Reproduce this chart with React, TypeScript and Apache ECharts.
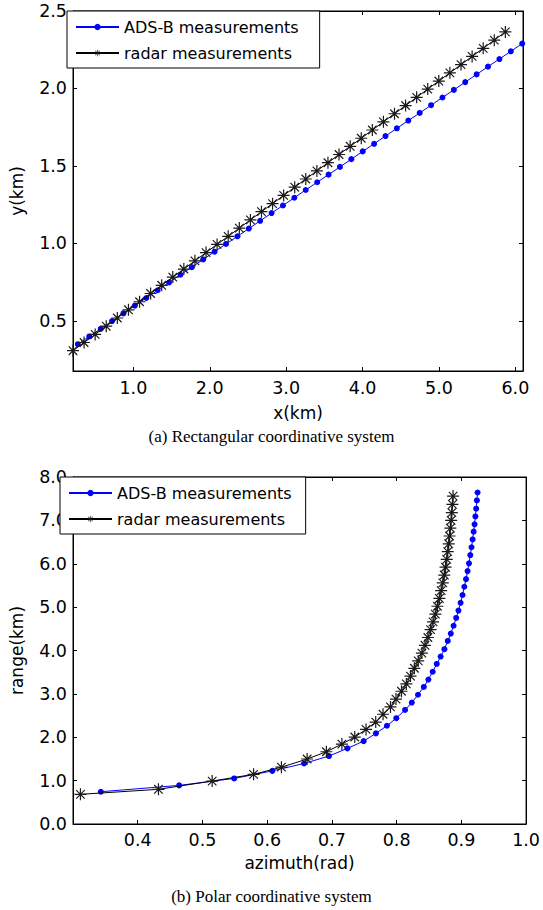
import React, { useEffect, useRef } from "react";
import * as echarts from "echarts";

// ---------- (a) Rectangular coordinates ----------
const adsbX = [0.274, 0.423, 0.572, 0.721, 0.870, 1.020, 1.169, 1.318, 1.467, 1.616, 1.765, 1.914, 2.063, 2.213, 2.362, 2.511, 2.660, 2.809, 2.958, 3.107, 3.256, 3.406, 3.555, 3.704, 3.853, 4.002, 4.151, 4.300, 4.449, 4.599, 4.748, 4.897, 5.046, 5.195, 5.344, 5.493, 5.642, 5.792, 5.941, 6.090];
const adsbY = [0.350, 0.400, 0.449, 0.499, 0.549, 0.599, 0.648, 0.698, 0.748, 0.798, 0.847, 0.897, 0.947, 0.997, 1.046, 1.096, 1.146, 1.196, 1.245, 1.295, 1.345, 1.395, 1.444, 1.494, 1.544, 1.594, 1.643, 1.693, 1.743, 1.793, 1.842, 1.892, 1.942, 1.991, 2.041, 2.091, 2.141, 2.190, 2.240, 2.290];
const radarX = [0.210, 0.355, 0.500, 0.645, 0.790, 0.936, 1.081, 1.226, 1.371, 1.516, 1.661, 1.806, 1.951, 2.096, 2.241, 2.387, 2.532, 2.677, 2.822, 2.967, 3.112, 3.257, 3.402, 3.547, 3.692, 3.838, 3.983, 4.128, 4.273, 4.418, 4.563, 4.708, 4.853, 4.998, 5.143, 5.289, 5.434, 5.579, 5.724, 5.869];
const radarY = [0.308, 0.361, 0.413, 0.466, 0.519, 0.572, 0.624, 0.677, 0.730, 0.783, 0.835, 0.888, 0.941, 0.994, 1.046, 1.099, 1.152, 1.205, 1.257, 1.310, 1.363, 1.416, 1.468, 1.521, 1.574, 1.627, 1.679, 1.732, 1.785, 1.837, 1.890, 1.943, 1.996, 2.048, 2.101, 2.154, 2.207, 2.259, 2.312, 2.365];
const xTicksA = [1, 2, 3, 4, 5, 6];
const yTicksA = [0.5, 1.0, 1.5, 2.0, 2.5];

// ---------- (b) Polar coordinates ----------
const adsbAz = [0.343, 0.464, 0.549, 0.608, 0.657, 0.6955, 0.724, 0.749, 0.768, 0.785, 0.7995, 0.813, 0.8235, 0.833, 0.842, 0.849, 0.8557, 0.862, 0.868, 0.8738, 0.879, 0.8837, 0.888, 0.892, 0.8955, 0.8988, 0.9018, 0.9046, 0.9072, 0.9096, 0.9118, 0.9138, 0.9157, 0.9174, 0.919, 0.9204, 0.9217, 0.9229, 0.924, 0.925];
const adsbRange = [0.744, 0.890, 1.050, 1.225, 1.395, 1.567, 1.744, 1.910, 2.090, 2.265, 2.440, 2.630, 2.800, 2.980, 3.160, 3.330, 3.510, 3.690, 3.860, 4.030, 4.220, 4.390, 4.570, 4.750, 4.920, 5.100, 5.280, 5.470, 5.645, 5.830, 6.010, 6.200, 6.380, 6.560, 6.740, 6.910, 7.090, 7.270, 7.460, 7.643];
const radarAz = [0.3115, 0.432, 0.515, 0.579, 0.622, 0.6617, 0.6915, 0.7154, 0.7353, 0.7527, 0.7677, 0.779, 0.7905, 0.799, 0.8075, 0.815, 0.8214, 0.8274, 0.8333, 0.839, 0.8438, 0.8483, 0.8525, 0.8563, 0.8598, 0.863, 0.866, 0.8688, 0.8713, 0.8736, 0.8756, 0.8774, 0.879, 0.8805, 0.8818, 0.883, 0.8842, 0.8853, 0.8862, 0.8872];
const radarRange = [0.684, 0.800, 0.990, 1.145, 1.310, 1.498, 1.666, 1.843, 2.005, 2.180, 2.350, 2.530, 2.700, 2.880, 3.060, 3.230, 3.410, 3.590, 3.760, 3.940, 4.120, 4.300, 4.480, 4.660, 4.840, 5.020, 5.200, 5.380, 5.560, 5.740, 5.920, 6.100, 6.280, 6.460, 6.640, 6.820, 7.000, 7.180, 7.370, 7.560];
const xTicksB = [0.4, 0.5, 0.6, 0.7, 0.8, 0.9, 1.0];
const yTicksB = [0, 1, 2, 3, 4, 5, 6, 7, 8];

const SERIES_A = "ADS-B measurements";
const SERIES_B = "radar measurements";

const STAR =
  "path://M0 9L20 9L20 11L0 11Z M9 0L11 0L11 20L9 20Z M2.2 3.6L3.6 2.2L17.8 16.4L16.4 17.8Z M16.4 2.2L17.8 3.6L3.6 17.8L2.2 16.4Z";

const FONT = "DejaVu Sans";

const zip = (a: number[], b: number[]) => a.map((v, i) => [v, b[i]]);

function mainAxis(pos: string, grid: number, min: number, max: number, ticks: number[], extra: any = {}) {
  return {
    type: "value",
    gridIndex: grid,
    position: pos,
    min,
    max,
    splitLine: { show: false },
    axisLine: { show: true, onZero: false, lineStyle: { color: "#000", width: 1 } },
    axisTick: { show: true, inside: true, length: 4, customValues: ticks, lineStyle: { color: "#000" } },
    axisLabel: {
      show: true,
      customValues: ticks,
      formatter: (v: number) => v.toFixed(1),
      color: "#000",
      fontFamily: FONT,
      fontSize: 17.5,
      margin: 6,
    },
    nameTextStyle: { color: "#000", fontFamily: FONT, fontSize: 17 },
    ...extra,
  };
}

function mirrorAxis(pos: string, grid: number, min: number, max: number, ticks: number[]) {
  return {
    type: "value",
    gridIndex: grid,
    position: pos,
    min,
    max,
    splitLine: { show: false },
    axisLine: { show: true, onZero: false, lineStyle: { color: "#000", width: 1 } },
    axisTick: { show: true, inside: true, length: 4, customValues: ticks, lineStyle: { color: "#000" } },
    axisLabel: { show: false },
  };
}

function legendFor(left: number, top: number, padding: number[]) {
  return {
    orient: "vertical",
    left,
    top,
    padding,
    itemGap: 6,
    itemWidth: 43,
    itemHeight: 8,
    backgroundColor: "#fff",
    borderColor: "#000",
    borderWidth: 1,
    borderRadius: 0,
    selectedMode: false,
    textStyle: { color: "#000", fontFamily: FONT, fontSize: 16, lineHeight: 20 },
    data: [SERIES_A, SERIES_B],
  };
}

export default function App() {
  const ref = useRef<HTMLDivElement>(null);

  useEffect(() => {
    if (!ref.current) return;
    const chart = echarts.init(ref.current, null, { renderer: "svg" });

    const adsbStyle = (xi: number, yi: number, data: number[][]) => ({
      name: SERIES_A,
      type: "line",
      xAxisIndex: xi,
      yAxisIndex: yi,
      data,
      symbol: "circle",
      symbolSize: 6,
      lineStyle: { color: "#0000ff", width: 1 },
      itemStyle: { color: "#0000ff" },
      z: 3,
    });
    const radarStyle = (xi: number, yi: number, data: number[][]) => ({
      name: SERIES_B,
      type: "line",
      xAxisIndex: xi,
      yAxisIndex: yi,
      data,
      symbol: STAR,
      symbolSize: 12,
      lineStyle: { color: "#000", width: 1 },
      itemStyle: { color: "#1a1a1a" },
      z: 4,
    });

    chart.setOption({
      animation: false,
      backgroundColor: "#fff",
      grid: [
        { left: 67, top: 11, width: 456, height: 360, show: true, borderColor: "#000", borderWidth: 1, backgroundColor: "transparent" },
        { left: 60, top: 477, width: 469, height: 347, show: true, borderColor: "#000", borderWidth: 1, backgroundColor: "transparent" },
      ],
      xAxis: [
        mainAxis("bottom", 0, 0.21, 6.1, xTicksA, {
          name: "x(km)",
          nameLocation: "middle",
          nameGap: 33,
          axisLabel: {
            customValues: xTicksA,
            formatter: (v: number) => v.toFixed(1),
            color: "#000",
            fontFamily: FONT,
            fontSize: 17.5,
            margin: 8,
          },
        }),
        mirrorAxis("top", 0, 0.21, 6.1, xTicksA),
        mainAxis("bottom", 1, 0.3, 1.0, xTicksB, {
          name: "azimuth(rad)",
          nameLocation: "middle",
          nameGap: 30,
          axisLabel: {
            customValues: xTicksB,
            formatter: (v: number) => v.toFixed(1),
            color: "#000",
            fontFamily: FONT,
            fontSize: 17.5,
            margin: 7,
          },
        }),
        mirrorAxis("top", 1, 0.3, 1.0, xTicksB),
      ],
      yAxis: [
        mainAxis("left", 0, 0.177, 2.5, yTicksA, { name: "y(km)", nameLocation: "middle", nameGap: 48 }),
        mirrorAxis("right", 0, 0.177, 2.5, yTicksA),
        mainAxis("left", 1, 0, 8, yTicksB, { name: "range(km)", nameLocation: "middle", nameGap: 48 }),
        mirrorAxis("right", 1, 0, 8, yTicksB),
      ],
      legend: [legendFor(67, 11, [6, 21, 5, 8]), legendFor(60, 477, [6, 14, 5, 8])],
      series: [
        adsbStyle(0, 0, zip(adsbX, adsbY)),
        radarStyle(0, 0, zip(radarX, radarY)),
        adsbStyle(2, 2, zip(adsbAz, adsbRange)),
        radarStyle(2, 2, zip(radarAz, radarRange)),
      ],
      graphic: [
        {
          type: "text",
          left: "center",
          top: 428,
          style: { text: "(a) Rectangular coordinative system", fill: "#000", font: '17px "Liberation Serif"' },
        },
        {
          type: "text",
          left: "center",
          top: 888,
          style: { text: "(b) Polar coordinative system", fill: "#000", font: '17px "Liberation Serif"' },
        },
      ],
    });

    return () => chart.dispose();
  }, []);

  return <div ref={ref} style={{ position: "fixed", left: 0, top: 0, width: 543, height: 910 }} />;
}
